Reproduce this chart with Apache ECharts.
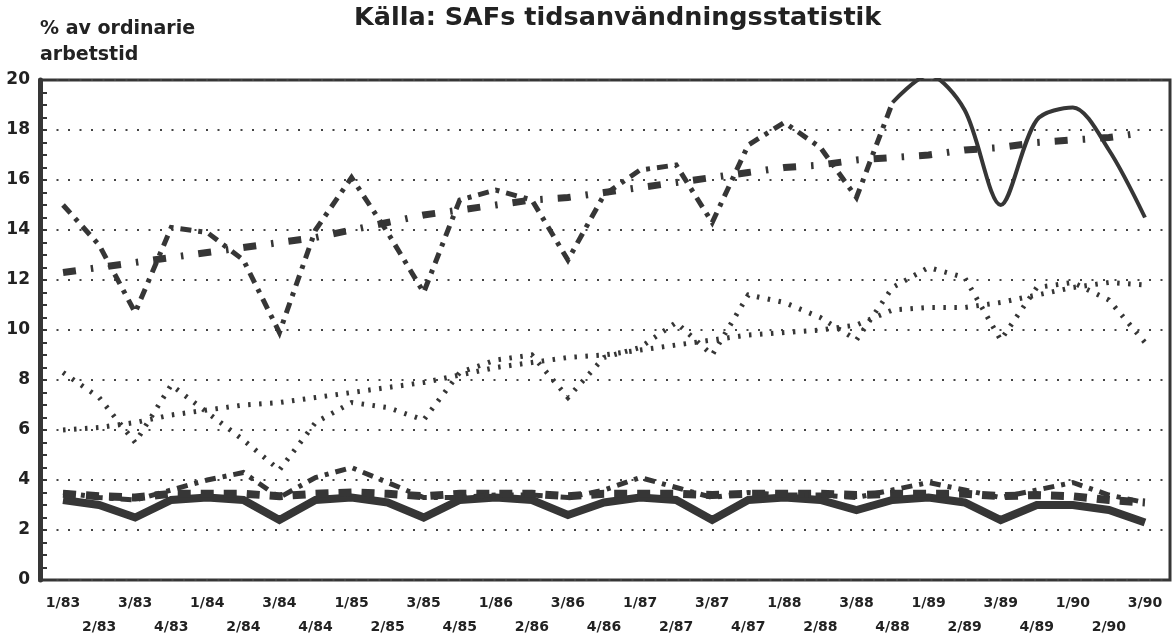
<!DOCTYPE html>
<html><head><meta charset="utf-8">
<script src="https://cdn.jsdelivr.net/npm/echarts@6/dist/echarts.min.js"></script>
<style>html,body{margin:0;padding:0;background:#fff}#c{width:1173px;height:641px}</style>
</head><body><div id="c"></div>
<script>
// Quarter categories (x axis)
const quarters = ['1/83','2/83','3/83','4/83','1/84','2/84','3/84','4/84','1/85','2/85','3/85','4/85',
  '1/86','2/86','3/86','4/86','1/87','2/87','3/87','4/87','1/88','2/88','3/88','4/88',
  '1/89','2/89','3/89','4/89','1/90','2/90','3/90'];

// Upper group: seasonal series and its trend
const upperSeries = [15.0, 13.4, 10.7, 14.1, 13.9, 12.8, 9.9, 14.0, 16.1, 13.9, 11.5, 15.2, 15.6, 15.2, 12.8, 15.4,
  16.4, 16.6, 14.3, 17.4, 18.3, 17.3, 15.3, 19.1, 20.2, 18.8, 15.0, 18.4, 18.9, 17.2, 14.5];
const upperTrend = [12.3, 12.5, 12.7, 12.9, 13.1, 13.3, 13.5, 13.7, 14.0, 14.3, 14.6, 14.8, 15.0, 15.2, 15.3, 15.5,
  15.7, 15.9, 16.1, 16.3, 16.5, 16.6, 16.8, 16.9, 17.0, 17.2, 17.3, 17.5, 17.6, 17.7, 17.9];

// Middle group: seasonal series and its trend
const middleSeries = [8.3, 7.3, 5.5, 7.8, 6.7, 5.6, 4.4, 6.3, 7.1, 6.9, 6.4, 8.3, 8.8, 9.0, 7.3, 8.9,
  9.3, 10.3, 9.0, 11.4, 11.1, 10.5, 9.6, 11.7, 12.5, 12.1, 9.6, 11.7, 11.9, 11.2, 9.5];
const middleTrend = [6.0, 6.1, 6.3, 6.6, 6.8, 7.0, 7.1, 7.3, 7.5, 7.7, 7.9, 8.2, 8.5, 8.7, 8.9, 9.0,
  9.2, 9.4, 9.6, 9.8, 9.9, 10.0, 10.2, 10.8, 10.9, 10.9, 11.1, 11.4, 11.7, 11.9, 11.8];

// Lower group
const lowerSolid = [3.2, 3.0, 2.5, 3.2, 3.3, 3.2, 2.4, 3.2, 3.3, 3.1, 2.5, 3.2, 3.3, 3.2, 2.6, 3.1,
  3.3, 3.2, 2.4, 3.2, 3.3, 3.2, 2.8, 3.2, 3.3, 3.1, 2.4, 3.0, 3.0, 2.8, 2.3];
const lowerBlocks = [3.45, 3.35, 3.3, 3.45, 3.45, 3.45, 3.35, 3.45, 3.5, 3.45, 3.35, 3.45, 3.45, 3.45, 3.35, 3.45,
  3.45, 3.45, 3.4, 3.45, 3.45, 3.45, 3.4, 3.45, 3.45, 3.45, 3.35, 3.4, 3.35, 3.2, 3.1];
const lowerDashed = [3.5, 3.3, 3.2, 3.6, 4.0, 4.3, 3.3, 4.1, 4.5, 3.9, 3.3, 3.3, 3.4, 3.4, 3.3, 3.6,
  4.1, 3.7, 3.3, 3.5, 3.4, 3.4, 3.3, 3.6, 3.9, 3.6, 3.3, 3.6, 3.9, 3.4, 3.1];

const solidFrom = 23; // upper series is drawn solid from this quarter on

const ink = '#363636';
const font = 'DejaVu Sans';
function part(arr, from, to) { return arr.map((v, i) => (i >= from && i <= to) ? v : null); }
function line(data, lineStyle, extra) {
  return Object.assign({
    type: 'line', xAxisIndex: 1, yAxisIndex: 1, data: data, showSymbol: false, symbol: 'none',
    lineStyle: Object.assign({ color: ink, cap: 'butt', join: 'miter' }, lineStyle), silent: true
  }, extra || {});
}

const chart = echarts.init(document.getElementById('c'), null, { renderer: 'canvas' });
chart.setOption({
  animation: false,
  backgroundColor: '#fff',
  title: {
    text: 'Källa: SAFs tidsanvändningsstatistik', left: 349, top: 0,
    textStyle: { fontFamily: font, fontWeight: 'bold', fontSize: 25.5, color: '#222' }
  },
  graphic: [{
    type: 'text', left: 40, top: 16,
    style: { text: '% av ordinarie\narbetstid', font: 'bold 19px "DejaVu Sans"', fill: '#222', lineHeight: 26 }
  }],
  grid: [
    { left: 40, right: 3, top: 80, bottom: 61, show: true, borderColor: ink, borderWidth: 3, backgroundColor: 'transparent' },
    { left: 45, right: 10, top: 80, bottom: 61 }
  ],
  xAxis: [
    { gridIndex: 0, type: 'value', min: 0, max: 1, show: false },
    {
      gridIndex: 1, type: 'category', data: quarters, boundaryGap: true, position: 'bottom',
      axisLine: { show: false },
      axisTick: { alignWithLabel: true, interval: (i) => i % 2 === 0, length: 10, lineStyle: { color: ink, width: 2 } },
      axisLabel: {
        interval: 0, formatter: (v, i) => (i % 2 ? '\n' + v : v),
        fontFamily: font, fontWeight: 'bold', fontSize: 14, color: '#222', lineHeight: 24, margin: 11
      },
      splitLine: { show: false }
    },
    {
      gridIndex: 1, type: 'category', data: quarters, boundaryGap: true, position: 'bottom',
      axisLine: { show: false },
      axisTick: { alignWithLabel: true, interval: (i) => i % 2 === 1, length: 5, lineStyle: { color: ink, width: 2 } },
      axisLabel: { show: false }, splitLine: { show: false }
    }
  ],
  yAxis: [
    {
      gridIndex: 0, type: 'value', min: 0, max: 20, interval: 2,
      axisLine: { show: true, lineStyle: { color: ink, width: 5 } },
      axisTick: { show: true, inside: true, length: 7, lineStyle: { color: ink, width: 2 } },
      minorTick: { show: true, splitNumber: 4, length: 7, lineStyle: { color: ink, width: 2 } },
      axisLabel: { fontFamily: font, fontWeight: 'bold', fontSize: 17, color: '#222', margin: 10 },
      splitLine: { show: false }
    },
    {
      gridIndex: 1, type: 'value', min: 0, max: 20, interval: 2,
      axisLine: { show: false }, axisTick: { show: false }, axisLabel: { show: false },
      splitLine: { show: true, lineStyle: { color: '#444', width: 2, type: [2, 9.5] } }
    }
  ],
  series: [
    line(lowerSolid, { width: 8 }),
    line(lowerBlocks, { width: 8, type: [13, 10] }),
    line(lowerDashed, { width: 5, type: [11, 7, 4, 7] }),
    line(middleTrend, { width: 5, type: [2.5, 8.5] }),
    line(middleSeries, { width: 5, type: [2.5, 8.5] }),
    line(upperTrend, { width: 7, type: [13, 15, 2.5, 15] }),
    line(part(upperSeries, 0, solidFrom), { width: 5, type: [11, 7, 4, 7] }),
    line(part(upperSeries, solidFrom, quarters.length - 1), { width: 4 }, { smooth: 0.3 })
  ]
});
</script>
</body></html>
